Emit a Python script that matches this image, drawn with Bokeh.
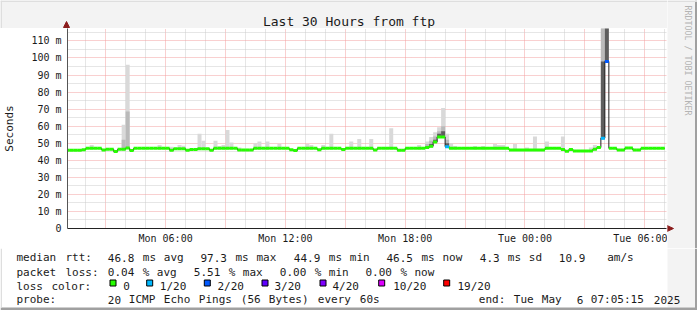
import re
from math import pi
from bokeh.plotting import figure
from bokeh.layouts import column, row
from bokeh.models import ColumnDataSource, FixedTicker, Range1d
from bokeh.core.properties import value
from bokeh.embed import file_html
from bokeh.resources import INLINE

# ---------------- data ----------------
t_start = 1.0875      # Mon 01:05:15, hours since Mon 00:00
t_end = 31.0875       # Tue 07:05:15
first_step = 1.0      # start of first 12-minute consolidated step (hours)
step_hours = 0.2
y_max_ms = 117.3

median_ms = [
    45.9, 45.9, 45.9, 45.9, 46.2, 47.0, 47.0, 47.0, 47.0, 46.0,
    46.5, 46.5, 45.2, 46.5, 46.5, 47.2, 45.8, 47.0, 47.0, 47.0,
    47.0, 47.0, 47.0, 47.0, 47.0, 47.0, 45.9, 46.8, 46.8, 46.8,
    45.9, 46.3, 46.3, 46.8, 46.8, 46.8, 45.9, 47.0, 47.0, 47.0,
    47.0, 47.0, 47.0, 46.0, 46.0, 46.0, 46.0, 47.0, 47.0, 47.0,
    47.0, 47.0, 47.0, 47.0, 47.0, 47.0, 46.2, 45.7, 47.0, 47.0,
    47.0, 47.0, 47.0, 46.2, 47.0, 47.0, 47.0, 47.0, 47.0, 46.4,
    47.0, 47.0, 47.0, 47.0, 47.0, 47.0, 47.0, 46.0, 47.1, 47.1,
    47.1, 47.1, 47.1, 45.9, 45.9, 47.0, 47.0, 47.0, 47.0, 47.0,
    47.5, 48.3, 50.8, 53.7, 53.7, 48.0, 47.0, 47.0, 47.0, 47.0,
    47.0, 47.0, 47.0, 47.0, 47.0, 47.0, 47.0, 47.0, 47.0, 47.0,
    47.0, 46.0, 46.0, 46.0, 46.0, 46.0, 46.0, 46.0, 46.0, 46.0,
    47.0, 47.0, 47.0, 47.0, 46.4, 45.3, 46.4, 45.5, 45.5, 45.5,
    45.5, 45.5, 46.5, 47.5, 53.0, 98.0, 47.0, 47.0, 46.0, 46.0,
    47.2, 47.2, 46.0, 46.0, 47.0, 47.0, 47.0, 47.0, 47.0, 47.0,
]

loss_steps = [95, 134, 135]
loss_counts = [1, 1, 2]

smoke_steps = [6, 14, 15, 23, 26, 28, 29, 33, 34, 37, 38, 39, 40, 41, 43, 47, 48,
               50, 53, 60, 61, 64, 66, 71, 73, 76, 81, 88, 90, 91, 92, 93, 94,
               95, 96, 97, 102, 104, 107, 108, 109, 112, 115, 117, 120, 124,
               131, 132, 134, 135]
smoke_max_ms = [49.0, 60.8, 96.0, 49.0, 48.0, 49.0, 48.5, 55.5, 51.5, 51.5, 48.4,
                49.0, 57.8, 50.4, 47.5, 50.0, 51.0, 51.0, 49.5, 49.5, 49.0, 49.0,
                55.5, 51.0, 52.5, 52.5, 58.8, 49.0, 51.0, 53.7, 56.5, 59.4, 70.6,
                55.5, 50.0, 48.4, 48.4, 48.4, 49.5, 49.0, 49.0, 49.5, 47.5, 53.9,
                51.0, 53.9, 47.5, 49.0, 130.0, 130.0]
smoke_mid_steps = [14, 15, 90, 91, 92, 93, 94, 95, 134]
smoke_mid_ms = [52.0, 68.6, 49.5, 51.5, 54.0, 57.0, 60.0, 52.0, 130.0]
smoke_core_steps = [91, 92, 93, 94, 95, 134, 135]
smoke_core_ms = [49.5, 52.0, 55.5, 57.0, 50.0, 98.0, 130.0]

x_tick_hours = [6, 12, 18, 24, 30]
x_tick_labels = ["Mon 06:00", "Mon 12:00", "Mon 18:00", "Tue 00:00", "Tue 06:00"]
y_tick_ms = [0, 10, 20, 30, 40, 50, 60, 70, 80, 90, 100, 110]
y_tick_labels = ["0", "10 m", "20 m", "30 m", "40 m", "50 m", "60 m", "70 m",
                 "80 m", "90 m", "100 m", "110 m"]

loss_levels = ["0", "1/20", "2/20", "3/20", "4/20", "10/20", "19/20"]
loss_thresholds = [0, 1, 2, 3, 4, 10, 19]
loss_colors = ["#26ff00", "#00b8ff", "#0059ff", "#5e00ff", "#7e00ff", "#dd00ff", "#ff0000"]

rtt_row = ["median rtt:", "46.8 ms avg", "97.3 ms max", "44.9 ms min",
           "46.5 ms now", "4.3 ms sd", "10.9", "am/s"]
loss_row = ["packet loss:", "0.04 % avg", "5.51 % max", "0.00 % min", "0.00 % now"]
color_row_title = "loss color:"
probe_row = ["probe:", "20 ICMP Echo Pings (56 Bytes) every 60s",
             "end: Tue May  6 07:05:15 2025"]
title_text = "Last 30 Hours from ftp"
y_label_text = "Seconds"
credit_text = "RRDTOOL / TOBI OETIKER"

# ---------------- layout constants (pixels) ----------------
W, H = 697, 310
LEFT_W = 667          # width of the white chart column
TITLE_H = 28
MAIN_H = 220
TOP_H = TITLE_H + MAIN_H
LEG_H = H - TOP_H
FL = 66               # frame left
FB_LOCAL = 200        # frame height
MONO = "DejaVu Sans Mono"
TXT = "#1a1a1a"
GRAY = "#f3f3f3"
EDGE = "#a0a0a0"
LIGHT_EDGE = "#dedede"
ARROW = "#8b1c1c"
AXIS_X = "#222222"
AXIS_Y = "#555555"


def deco_fig(w, h, x0, x1, y_top, y_bottom, bg):
    f = figure(width=w, height=h, x_range=Range1d(x0, x1),
               y_range=Range1d(y_bottom, y_top), output_backend="svg",
               toolbar_location=None, min_border=0, x_axis_location=None,
               y_axis_location=None, border_fill_color=bg,
               background_fill_color=bg, outline_line_color=None, title=None,
               frame_align=False)
    f.xgrid.visible = False
    f.ygrid.visible = False
    return f


def word_table(items, xs, y, adv=7.0):
    wx, wy, wt = [], [], []
    for X, s in zip(xs, items):
        for m in re.finditer(r"\S+", s):
            wx.append(X + m.start() * adv)
            wy.append(y)
            wt.append(m.group())
    return wx, wy, wt


# ---------------- title band ----------------
tf = deco_fig(LEFT_W, TITLE_H, 0, LEFT_W, 0, TITLE_H, GRAY)
tf.quad(left=[0], right=[LEFT_W], top=[0], bottom=[1.5], fill_color=LIGHT_EDGE, line_color=None)
tf.quad(left=[0], right=[1.5], top=[0], bottom=[TITLE_H], fill_color=LIGHT_EDGE, line_color=None)
tf.text(x=[348.5], y=[21], text=[title_text], text_font=value(MONO),
        text_font_size=value("13px"), text_color=TXT, text_align="center",
        text_baseline="alphabetic")
tf.segment(x0=[FL], y0=[26], x1=[FL], y1=[TITLE_H], line_color=AXIS_Y, line_width=1)
tf.patch(x=[FL - 3, FL, FL + 3], y=[27, 21, 27], fill_color=ARROW, line_color=ARROW)

# ---------------- main chart ----------------
p = figure(width=LEFT_W, height=MAIN_H, x_range=Range1d(t_start, t_end),
           y_range=Range1d(0, y_max_ms), output_backend="svg",
           toolbar_location=None, min_border_left=FL, min_border_right=LEFT_W - FL - 600,
           min_border_top=0, min_border_bottom=MAIN_H - FB_LOCAL,
           border_fill_color="white", background_fill_color="white",
           outline_line_color=None, title=None, frame_align=False)

p.xaxis.ticker = FixedTicker(ticks=x_tick_hours)
p.xaxis.major_label_overrides = dict(zip(x_tick_hours, x_tick_labels))
p.yaxis.ticker = FixedTicker(ticks=y_tick_ms)
p.yaxis.major_label_overrides = dict(zip(y_tick_ms, y_tick_labels))
for ax in (p.xaxis, p.yaxis):
    ax.major_tick_in = 0
    ax.major_tick_out = 0
    ax.minor_tick_line_color = None
    ax.major_label_text_font = MONO
    ax.major_label_text_font_size = "10px"
    ax.major_label_text_color = TXT
p.xaxis.axis_line_color = AXIS_X
p.yaxis.axis_line_color = AXIS_Y
p.xaxis.major_label_standoff = 4
p.yaxis.major_label_standoff = 6
p.yaxis.axis_label = y_label_text
p.yaxis.axis_label_text_font = MONO
p.yaxis.axis_label_text_font_size = "11px"
p.yaxis.axis_label_text_font_style = "normal"
p.yaxis.axis_label_text_color = TXT
p.yaxis.axis_label_standoff = 12

x_major = [3, 6, 9, 12, 15, 18, 21, 24, 27, 30]
x_minor = [h for h in range(2, 32) if h % 3 != 0]
p.xgrid.ticker = FixedTicker(ticks=x_major, minor_ticks=x_minor)
p.ygrid.ticker = FixedTicker(ticks=y_tick_ms[1:], minor_ticks=[5 + 10 * k for k in range(12)])
for g in (p.xgrid, p.ygrid):
    g.grid_line_color = "#f2a0a0"
    g.grid_line_dash = "1 1"
    g.minor_grid_line_color = "#cccccc"
    g.minor_grid_line_dash = "1 1"

times = [first_step + step_hours * i for i in range(len(median_ms))]


def smoke_layer(steps, tops, color):
    src = ColumnDataSource(dict(
        left=[times[i] for i in steps],
        right=[times[i] + step_hours for i in steps],
        bottom=[median_ms[i] - 0.6 for i in steps],
        top=tops))
    p.quad(left="left", right="right", bottom="bottom", top="top", source=src,
           fill_color=color, line_color=None)


smoke_layer(smoke_steps, smoke_max_ms, "#d9d9d9")
smoke_layer(smoke_mid_steps, smoke_mid_ms, "#bababa")
smoke_layer(smoke_core_steps, smoke_core_ms, "#5e5e5e")

loss_all = [0] * len(median_ms)
for s, c in zip(loss_steps, loss_counts):
    loss_all[s] = c


def loss_color(n):
    k = 0
    for j, th in enumerate(loss_thresholds):
        if n >= th:
            k = j
    return loss_colors[k]


p.step(x=times + [times[-1] + step_hours], y=median_ms + [median_ms[-1]], mode="after",
       line_color="#202020", line_width=1)
seg = ColumnDataSource(dict(
    x0=times, x1=[t + step_hours for t in times], y=median_ms,
    color=[loss_color(n) for n in loss_all]))
p.segment(x0="x0", y0="y", x1="x1", y1="y", source=seg, line_color="color",
          line_width=3, line_cap="butt")

# ---------------- right strip (beside title + chart) ----------------
rf = deco_fig(W - LEFT_W, TOP_H, LEFT_W, W, 0, TOP_H, GRAY)
rf.quad(left=[694.5], right=[W], top=[0], bottom=[TOP_H], fill_color=EDGE, line_color=None)
rf.quad(left=[LEFT_W], right=[W], top=[0], bottom=[1.5], fill_color=LIGHT_EDGE, line_color=None)
rf.text(x=[687.5], y=[5], text=[credit_text], angle=-pi / 2, text_font=value(MONO),
        text_font_size=value("8.3px"), text_color="#b4b4b4", text_align="left",
        text_baseline="middle")
rf.patch(x=[LEFT_W - 0.5, 673, LEFT_W - 0.5], y=[225, 228, 231], fill_color=ARROW, line_color=ARROW)

# ---------------- legend block (full width) ----------------
lf = deco_fig(W, LEG_H, 0, W, TOP_H, H, "white")
lf.quad(left=[LEFT_W], right=[694.5], top=[TOP_H], bottom=[307], fill_color=GRAY, line_color=None)
lf.quad(left=[694.5], right=[W], top=[TOP_H], bottom=[H], fill_color=EDGE, line_color=None)
lf.quad(left=[0], right=[W], top=[307], bottom=[H], fill_color=EDGE, line_color=None)
lf.quad(left=[0], right=[1.5], top=[TOP_H], bottom=[307], fill_color=LIGHT_EDGE, line_color=None)

wx, wy, wt = [], [], []
for items, xs, y in [
        (rtt_row, [16, 107.3, 200, 293.3, 386, 479.3, 558.3, 606.7], 257.3),
        (loss_row, [16, 107.3, 193.3, 279.3, 365], 271.5),
        ([color_row_title], [16], 285.5),
        (loss_levels, [122.7, 159.3, 217, 274, 332, 392.7, 457], 285.5),
        (probe_row, [16, 107.3, 478.3], 299.3)]:
    a, b, c = word_table(items, xs, y)
    wx += a
    wy += b
    wt += c
lf.text(x=wx, y=wy, text=wt, text_font=value(MONO), text_font_size=value("11px"),
        text_color=TXT, text_align="left", text_baseline="alphabetic")

sq_x = [109, 145.7, 203.3, 261, 319, 377.7, 442.7]
lf.quad(left=[x + 0.5 for x in sq_x], right=[x + 6.5 for x in sq_x],
        top=[279.5] * len(sq_x), bottom=[285.5] * len(sq_x),
        fill_color=loss_colors, line_color="black", line_width=1)

root = column(row(column(tf, p), rf), lf)
open("out.html", "w").write(file_html(root, INLINE))
